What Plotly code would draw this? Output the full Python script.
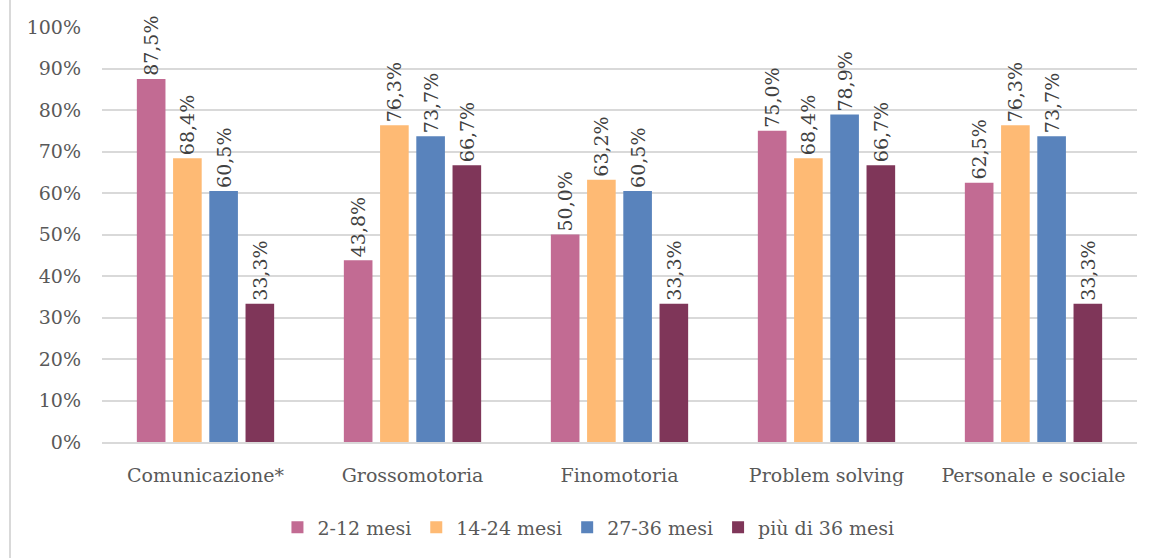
import plotly.graph_objects as go

categories = ["Comunicazione*", "Grossomotoria", "Finomotoria", "Problem solving", "Personale e sociale"]
series_names = ["2-12 mesi", "14-24 mesi", "27-36 mesi", "più di 36 mesi"]
v_2_12 = [87.5, 43.8, 50.0, 75.0, 62.5]
v_14_24 = [68.4, 76.3, 63.2, 68.4, 76.3]
v_27_36 = [60.5, 73.7, 60.5, 78.9, 73.7]
v_36_plus = [33.3, 66.7, 33.3, 66.7, 33.3]
y_ticks = list(range(0, 101, 10))
y_tick_labels = [f"{t}%" for t in y_ticks]

colors = ["#C26B93", "#FEBA74", "#5983BC", "#7F3659"]
font_family = "DejaVu Serif"
text_color = "#595959"

fig = go.Figure()
for name, vals, col in zip(series_names, [v_2_12, v_14_24, v_27_36, v_36_plus], colors):
    fig.add_trace(go.Bar(
        x=categories, y=vals, name=name,
        marker=dict(color=col, line=dict(width=0)),
        text=[f"{v:.1f}%".replace(".", ",") for v in vals],
        textposition="outside", textangle=-90,
        textfont=dict(family=font_family, size=19, color="#404040"),
        cliponaxis=False, constraintext="none",
    ))

fig.update_layout(
    width=1152, height=558,
    margin=dict(l=102, r=15, t=27, b=116),
    paper_bgcolor="white", plot_bgcolor="white",
    barmode="group", bargap=0.30, bargroupgap=0.21,
    uniformtext=dict(minsize=19, mode="show"),
    font=dict(family=font_family, color=text_color, size=19),
    showlegend=True,
    legend=dict(orientation="h", x=0.47, xanchor="center", y=-0.16, yanchor="top",
                font=dict(size=19, color=text_color), itemwidth=30,
                traceorder="normal"),
    yaxis=dict(range=[0, 100], tickvals=y_ticks, ticktext=y_tick_labels,
               showgrid=True, gridcolor="#D9D9D9", gridwidth=2,
               zeroline=False, showline=False, ticks="",
               ticklabelstandoff=20, tickfont=dict(size=19, color=text_color)),
    xaxis=dict(showline=True, linecolor="#D9D9D9", linewidth=2, ticks="",
               tickfont=dict(size=19, color=text_color), ticklabelstandoff=15),
    shapes=[dict(type="line", xref="paper", yref="paper",
                 x0=(10 - 102) / 1035, x1=(10 - 102) / 1035,
                 y0=-116 / 415, y1=1 + 27 / 415,
                 line=dict(color="#D9D9D9", width=2))],
)

fig.write_html("out.html")
